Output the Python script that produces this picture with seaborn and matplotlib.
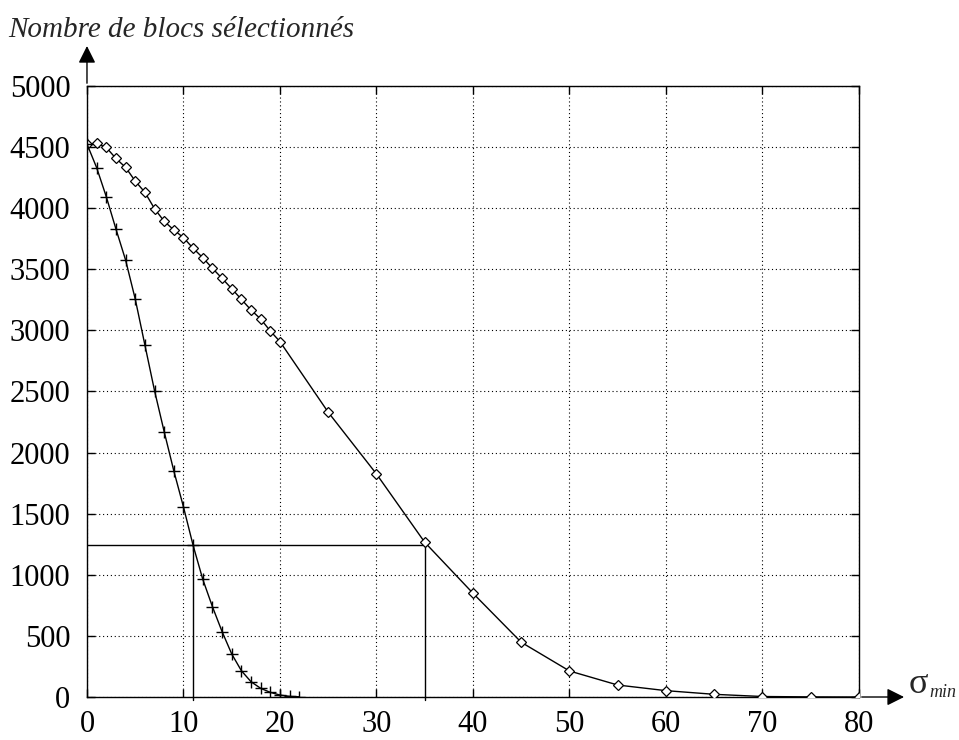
import numpy as np
import pandas as pd
import seaborn as sns
import matplotlib
matplotlib.use("Agg")
import matplotlib.pyplot as plt

# data
sigma_diamond = [0, 1, 2, 3, 4, 5, 6, 7, 8, 9, 10, 11, 12, 13, 14, 15, 16, 17, 18, 19, 20,
                 25, 30, 35, 40, 45, 50, 55, 60, 65, 70, 75, 80]
blocs_diamond = [4525, 4530, 4497, 4407, 4334, 4222, 4130, 3996, 3893, 3822, 3759, 3672,
                 3595, 3508, 3426, 3341, 3254, 3167, 3093, 2995, 2908,
                 2330, 1825, 1266, 849, 448, 213, 98, 52, 22, 4, 1, 0]

sigma_plus = [0, 1, 2, 3, 4, 5, 6, 7, 8, 9, 10, 11, 12, 13, 14, 15, 16, 17, 18, 19, 20, 21, 22]
blocs_plus = [4525, 4332, 4094, 3830, 3576, 3257, 2881, 2507, 2171, 1850, 1555, 1240,
              963, 739, 535, 352, 215, 125, 71, 38, 16, 5, 2]

level = 1240
sigma_cut = [11, 35]

x_ticks = list(range(0, 81, 10))
y_ticks = list(range(0, 5001, 500))

sns.set_style("ticks")
plt.rcParams['font.family'] = ['Liberation Serif', 'DejaVu Serif']

fig = plt.figure(figsize=(9.59, 7.40), dpi=100)
ax = fig.add_axes([0.0907, 0.0581, 0.8050, 0.8257])

df_d = pd.DataFrame({'sigma': sigma_diamond, 'blocs': blocs_diamond})
df_p = pd.DataFrame({'sigma': sigma_plus, 'blocs': blocs_plus})

sns.lineplot(data=df_d, x='sigma', y='blocs', ax=ax, color='black', lw=1,
             marker='D', markersize=5.5, markerfacecolor='white',
             markeredgecolor='black', markeredgewidth=0.9, zorder=3)
sns.lineplot(data=df_p, x='sigma', y='blocs', ax=ax, color='black', lw=1,
             marker='+', markersize=8, markeredgecolor='black',
             markeredgewidth=1, zorder=3)

# reading lines
ax.plot([0, sigma_cut[1]], [level, level], color='black', lw=1)
for s in sigma_cut:
    ax.plot([s, s], [-25, level], color='black', lw=1, clip_on=False)

ax.set_xlim(0, 80)
ax.set_ylim(0, 5000)
ax.set_xticks(x_ticks)
ax.set_yticks(y_ticks)
ax.grid(True, color='black', linestyle=(0, (1, 2.5)), lw=0.8)
ax.tick_params(direction='in', length=6, width=1, top=True, right=True,
               labelsize=22, colors='black')
ax.tick_params(axis='y', pad=12)
ax.tick_params(axis='x', pad=9)
ax.set_xlabel('')
ax.set_ylabel('')
for sp in ax.spines.values():
    sp.set_color('black')
    sp.set_linewidth(1)

# axis arrows
ax.annotate('', xy=(0, 1.07), xytext=(0, 1.0), xycoords='axes fraction',
            arrowprops=dict(arrowstyle='-|>', color='black', lw=1, mutation_scale=26))
ax.annotate('', xy=(1.062, 0), xytext=(1.0, 0), xycoords='axes fraction',
            arrowprops=dict(arrowstyle='-|>', color='black', lw=1, mutation_scale=26))

fig.text(0.009, 0.960, 'Nombre de blocs sélectionnés', style='italic',
         fontsize=21, va='center', ha='left')
fig.text(0.947, 0.063, 'σ', fontsize=26, va='baseline', ha='left')
fig.text(0.969, 0.058, 'min', fontsize=13, style='italic', va='baseline', ha='left')

fig.savefig('out.png', dpi=100)
